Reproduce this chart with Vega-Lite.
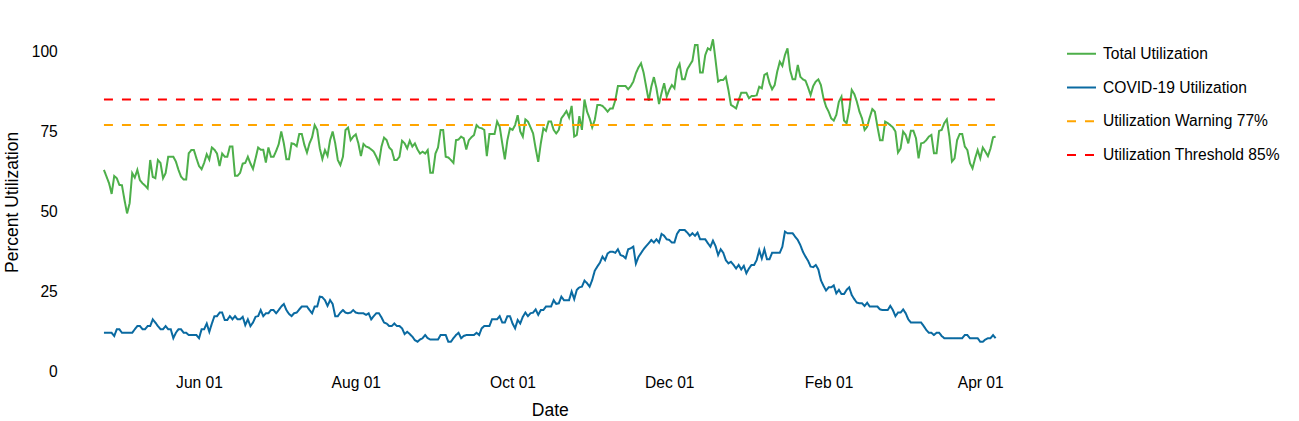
{
"$schema":"https://vega.github.io/schema/vega-lite/v6.json",
"width":981,"height":339.2,
"autosize":{"type":"none"},
"padding":{"left":59.3,"top":32.3,"right":258.7,"bottom":49.5},
"config":{"view":{"stroke":null},"font":"Liberation Sans",
"axis":{"domain":false,"ticks":false,"grid":false,"labelFont":"Liberation Sans","labelFontSize":15.6,"labelColor":"#000","titleFont":"Liberation Sans","titleFontSize":17.5,"titleFontWeight":"normal","titleColor":"#000"}},
"datasets":{
"main":[
{"d":"2020/04/25","t":63.0,"c":12.1},{"d":"2020/04/26","t":60.9,"c":12.1},{"d":"2020/04/27","t":58.8,"c":12.1},{"d":"2020/04/28","t":55.5,"c":12.1},{"d":"2020/04/29","t":61.1,"c":11.1},{"d":"2020/04/30","t":60.4,"c":13.2},
{"d":"2020/05/01","t":58.3,"c":13.2},{"d":"2020/05/02","t":58.2,"c":12.1},{"d":"2020/05/03","t":53.6,"c":12.1},{"d":"2020/05/04","t":49.4,"c":12.1},{"d":"2020/05/05","t":52.6,"c":12.1},{"d":"2020/05/06","t":62.0,"c":12.1},{"d":"2020/05/07","t":60.6,"c":13.2},{"d":"2020/05/08","t":63.0,"c":14.2},{"d":"2020/05/09","t":59.8,"c":14.2},{"d":"2020/05/10","t":58.8,"c":13.2},{"d":"2020/05/11","t":58.1,"c":13.2},{"d":"2020/05/12","t":57.2,"c":14.2},{"d":"2020/05/13","t":66.1,"c":14.2},{"d":"2020/05/14","t":60.8,"c":16.3},{"d":"2020/05/15","t":60.4,"c":15.3},{"d":"2020/05/16","t":66.1,"c":14.2},{"d":"2020/05/17","t":65.2,"c":13.2},{"d":"2020/05/18","t":60.4,"c":13.2},{"d":"2020/05/19","t":62.0,"c":14.2},{"d":"2020/05/20","t":67.1,"c":13.2},{"d":"2020/05/21","t":67.1,"c":13.2},{"d":"2020/05/22","t":67.1,"c":10.4},{"d":"2020/05/23","t":65.6,"c":12.1},{"d":"2020/05/24","t":63.0,"c":13.2},{"d":"2020/05/25","t":60.9,"c":13.2},{"d":"2020/05/26","t":60.0,"c":12.1},{"d":"2020/05/27","t":60.0,"c":12.1},{"d":"2020/05/28","t":68.2,"c":11.4},{"d":"2020/05/29","t":69.2,"c":11.4},{"d":"2020/05/30","t":69.2,"c":11.4},{"d":"2020/05/31","t":66.6,"c":11.4},
{"d":"2020/06/01","t":64.2,"c":10.4},{"d":"2020/06/02","t":63.2,"c":13.2},{"d":"2020/06/03","t":65.2,"c":13.2},{"d":"2020/06/04","t":67.9,"c":15.0},{"d":"2020/06/05","t":66.2,"c":12.4},{"d":"2020/06/06","t":70.0,"c":15.0},{"d":"2020/06/07","t":69.3,"c":17.3},{"d":"2020/06/08","t":68.1,"c":17.3},{"d":"2020/06/09","t":64.2,"c":18.4},{"d":"2020/06/10","t":68.1,"c":18.4},{"d":"2020/06/11","t":67.1,"c":16.1},{"d":"2020/06/12","t":67.1,"c":16.1},{"d":"2020/06/13","t":70.3,"c":17.3},{"d":"2020/06/14","t":70.3,"c":16.3},{"d":"2020/06/15","t":61.2,"c":17.3},{"d":"2020/06/16","t":61.2,"c":16.3},{"d":"2020/06/17","t":62.1,"c":16.3},{"d":"2020/06/18","t":65.0,"c":17.1},{"d":"2020/06/19","t":65.2,"c":14.5},{"d":"2020/06/20","t":67.1,"c":16.3},{"d":"2020/06/21","t":65.0,"c":14.2},{"d":"2020/06/22","t":63.3,"c":15.3},{"d":"2020/06/23","t":66.6,"c":17.1},{"d":"2020/06/24","t":70.0,"c":17.3},{"d":"2020/06/25","t":69.3,"c":19.2},{"d":"2020/06/26","t":69.3,"c":17.3},{"d":"2020/06/27","t":65.3,"c":18.2},{"d":"2020/06/28","t":70.0,"c":18.2},{"d":"2020/06/29","t":67.1,"c":19.2},{"d":"2020/06/30","t":67.1,"c":19.2},
{"d":"2020/07/01","t":68.9,"c":18.2},{"d":"2020/07/02","t":71.0,"c":19.2},{"d":"2020/07/03","t":75.0,"c":20.3},{"d":"2020/07/04","t":71.3,"c":21.1},{"d":"2020/07/05","t":66.3,"c":19.2},{"d":"2020/07/06","t":66.3,"c":18.0},{"d":"2020/07/07","t":71.3,"c":17.3},{"d":"2020/07/08","t":71.1,"c":18.2},{"d":"2020/07/09","t":70.4,"c":18.4},{"d":"2020/07/10","t":74.2,"c":19.4},{"d":"2020/07/11","t":74.2,"c":20.3},{"d":"2020/07/12","t":70.8,"c":20.3},{"d":"2020/07/13","t":68.4,"c":20.3},{"d":"2020/07/14","t":71.3,"c":19.2},{"d":"2020/07/15","t":73.2,"c":18.2},{"d":"2020/07/16","t":77.0,"c":20.3},{"d":"2020/07/17","t":75.5,"c":20.3},{"d":"2020/07/18","t":69.7,"c":23.4},{"d":"2020/07/19","t":66.4,"c":23.2},{"d":"2020/07/20","t":69.2,"c":22.3},{"d":"2020/07/21","t":67.4,"c":20.5},{"d":"2020/07/22","t":72.3,"c":22.3},{"d":"2020/07/23","t":75.0,"c":21.1},{"d":"2020/07/24","t":71.3,"c":17.3},{"d":"2020/07/25","t":66.1,"c":17.3},{"d":"2020/07/26","t":64.5,"c":18.4},{"d":"2020/07/27","t":67.1,"c":19.2},{"d":"2020/07/28","t":75.5,"c":18.4},{"d":"2020/07/29","t":76.2,"c":18.2},{"d":"2020/07/30","t":72.3,"c":18.4},{"d":"2020/07/31","t":73.4,"c":19.2},
{"d":"2020/08/01","t":74.1,"c":18.4},{"d":"2020/08/02","t":71.3,"c":18.2},{"d":"2020/08/03","t":67.3,"c":18.2},{"d":"2020/08/04","t":71.1,"c":18.2},{"d":"2020/08/05","t":70.3,"c":17.7},{"d":"2020/08/06","t":70.0,"c":18.2},{"d":"2020/08/07","t":69.4,"c":16.3},{"d":"2020/08/08","t":68.7,"c":17.3},{"d":"2020/08/09","t":67.1,"c":18.2},{"d":"2020/08/10","t":65.2,"c":18.2},{"d":"2020/08/11","t":70.3,"c":16.9},{"d":"2020/08/12","t":73.1,"c":15.3},{"d":"2020/08/13","t":72.3,"c":15.0},{"d":"2020/08/14","t":70.0,"c":14.2},{"d":"2020/08/15","t":69.2,"c":14.2},{"d":"2020/08/16","t":66.1,"c":15.0},{"d":"2020/08/17","t":66.1,"c":14.2},{"d":"2020/08/18","t":67.1,"c":14.2},{"d":"2020/08/19","t":72.1,"c":13.5},{"d":"2020/08/20","t":71.3,"c":11.7},{"d":"2020/08/21","t":69.7,"c":12.4},{"d":"2020/08/22","t":72.1,"c":11.7},{"d":"2020/08/23","t":70.3,"c":10.9},{"d":"2020/08/24","t":71.3,"c":9.8},{"d":"2020/08/25","t":69.4,"c":9.3},{"d":"2020/08/26","t":68.1,"c":10.0},{"d":"2020/08/27","t":68.7,"c":10.4},{"d":"2020/08/28","t":68.1,"c":11.4},{"d":"2020/08/29","t":69.2,"c":10.4},{"d":"2020/08/30","t":62.1,"c":10.0},{"d":"2020/08/31","t":62.1,"c":10.0},
{"d":"2020/09/01","t":68.1,"c":10.0},{"d":"2020/09/02","t":70.0,"c":10.0},{"d":"2020/09/03","t":75.5,"c":11.4},{"d":"2020/09/04","t":75.5,"c":11.4},{"d":"2020/09/05","t":67.1,"c":11.4},{"d":"2020/09/06","t":66.9,"c":9.3},{"d":"2020/09/07","t":66.1,"c":9.3},{"d":"2020/09/08","t":65.2,"c":10.4},{"d":"2020/09/09","t":72.3,"c":11.4},{"d":"2020/09/10","t":72.5,"c":12.1},{"d":"2020/09/11","t":73.4,"c":10.4},{"d":"2020/09/12","t":72.9,"c":11.1},{"d":"2020/09/13","t":69.4,"c":11.4},{"d":"2020/09/14","t":72.3,"c":11.4},{"d":"2020/09/15","t":73.2,"c":11.4},{"d":"2020/09/16","t":73.9,"c":11.4},{"d":"2020/09/17","t":77.0,"c":12.1},{"d":"2020/09/18","t":76.2,"c":11.4},{"d":"2020/09/19","t":76.0,"c":13.5},{"d":"2020/09/20","t":75.5,"c":14.2},{"d":"2020/09/21","t":67.3,"c":14.2},{"d":"2020/09/22","t":74.2,"c":14.2},{"d":"2020/09/23","t":74.2,"c":16.3},{"d":"2020/09/24","t":74.2,"c":16.3},{"d":"2020/09/25","t":78.1,"c":16.3},{"d":"2020/09/26","t":76.5,"c":17.3},{"d":"2020/09/27","t":71.3,"c":15.3},{"d":"2020/09/28","t":66.3,"c":15.3},{"d":"2020/09/29","t":72.3,"c":17.3},{"d":"2020/09/30","t":76.0,"c":17.3},
{"d":"2020/10/01","t":75.5,"c":15.0},{"d":"2020/10/02","t":77.0,"c":13.5},{"d":"2020/10/03","t":80.1,"c":16.1},{"d":"2020/10/04","t":75.0,"c":15.0},{"d":"2020/10/05","t":73.4,"c":17.1},{"d":"2020/10/06","t":78.8,"c":18.4},{"d":"2020/10/07","t":78.1,"c":17.3},{"d":"2020/10/08","t":76.3,"c":18.2},{"d":"2020/10/09","t":74.4,"c":18.4},{"d":"2020/10/10","t":69.7,"c":19.4},{"d":"2020/10/11","t":65.5,"c":17.7},{"d":"2020/10/12","t":71.3,"c":19.2},{"d":"2020/10/13","t":76.0,"c":19.2},{"d":"2020/10/14","t":75.2,"c":20.3},{"d":"2020/10/15","t":78.1,"c":20.3},{"d":"2020/10/16","t":78.1,"c":20.3},{"d":"2020/10/17","t":75.5,"c":22.3},{"d":"2020/10/18","t":74.4,"c":21.1},{"d":"2020/10/19","t":75.5,"c":21.3},{"d":"2020/10/20","t":79.1,"c":23.4},{"d":"2020/10/21","t":80.2,"c":22.3},{"d":"2020/10/22","t":81.4,"c":22.3},{"d":"2020/10/23","t":79.4,"c":22.3},{"d":"2020/10/24","t":83.0,"c":25.0},{"d":"2020/10/25","t":73.4,"c":22.6},{"d":"2020/10/26","t":73.9,"c":25.5},{"d":"2020/10/27","t":79.8,"c":26.3},{"d":"2020/10/28","t":75.5,"c":26.5},{"d":"2020/10/29","t":85.0,"c":28.4},{"d":"2020/10/30","t":81.2,"c":27.6},{"d":"2020/10/31","t":79.1,"c":26.5},
{"d":"2020/11/01","t":76.3,"c":28.6},{"d":"2020/11/02","t":78.6,"c":31.5},{"d":"2020/11/03","t":83.3,"c":32.8},{"d":"2020/11/04","t":83.3,"c":34.0},{"d":"2020/11/05","t":83.0,"c":35.9},{"d":"2020/11/06","t":82.2,"c":34.8},{"d":"2020/11/07","t":81.2,"c":36.9},{"d":"2020/11/08","t":82.2,"c":37.4},{"d":"2020/11/09","t":82.2,"c":37.4},{"d":"2020/11/10","t":84.8,"c":37.1},{"d":"2020/11/11","t":89.2,"c":38.2},{"d":"2020/11/12","t":89.2,"c":36.4},{"d":"2020/11/13","t":89.2,"c":36.1},{"d":"2020/11/14","t":89.2,"c":35.4},{"d":"2020/11/15","t":88.2,"c":38.2},{"d":"2020/11/16","t":89.2,"c":38.5},{"d":"2020/11/17","t":90.6,"c":39.0},{"d":"2020/11/18","t":93.2,"c":33.7},{"d":"2020/11/19","t":95.0,"c":35.8},{"d":"2020/11/20","t":96.3,"c":37.0},{"d":"2020/11/21","t":93.4,"c":38.2},{"d":"2020/11/22","t":89.0,"c":39.2},{"d":"2020/11/23","t":84.6,"c":40.1},{"d":"2020/11/24","t":89.0,"c":41.1},{"d":"2020/11/25","t":92.0,"c":40.3},{"d":"2020/11/26","t":88.5,"c":41.3},{"d":"2020/11/27","t":83.6,"c":40.3},{"d":"2020/11/28","t":87.1,"c":43.0},{"d":"2020/11/29","t":90.1,"c":42.4},{"d":"2020/11/30","t":85.9,"c":41.3},
{"d":"2020/12/01","t":88.0,"c":41.1},{"d":"2020/12/02","t":89.5,"c":40.3},{"d":"2020/12/03","t":88.5,"c":40.3},{"d":"2020/12/04","t":94.4,"c":43.0},{"d":"2020/12/05","t":96.1,"c":44.2},{"d":"2020/12/06","t":91.3,"c":44.2},{"d":"2020/12/07","t":91.3,"c":44.2},{"d":"2020/12/08","t":94.4,"c":43.4},{"d":"2020/12/09","t":95.8,"c":42.4},{"d":"2020/12/10","t":97.1,"c":43.2},{"d":"2020/12/11","t":102.0,"c":42.4},{"d":"2020/12/12","t":102.0,"c":43.4},{"d":"2020/12/13","t":93.4,"c":41.3},{"d":"2020/12/14","t":93.4,"c":41.3},{"d":"2020/12/15","t":98.9,"c":41.3},{"d":"2020/12/16","t":101.0,"c":40.1},{"d":"2020/12/17","t":100.5,"c":39.0},{"d":"2020/12/18","t":103.8,"c":40.9},{"d":"2020/12/19","t":97.3,"c":39.2},{"d":"2020/12/20","t":90.6,"c":36.4},{"d":"2020/12/21","t":91.1,"c":38.2},{"d":"2020/12/22","t":91.1,"c":37.1},{"d":"2020/12/23","t":92.1,"c":34.8},{"d":"2020/12/24","t":88.0,"c":33.8},{"d":"2020/12/25","t":83.3,"c":34.3},{"d":"2020/12/26","t":82.8,"c":33.3},{"d":"2020/12/27","t":82.2,"c":32.2},{"d":"2020/12/28","t":84.8,"c":33.3},{"d":"2020/12/29","t":87.1,"c":31.9},{"d":"2020/12/30","t":87.1,"c":33.0},{"d":"2020/12/31","t":87.1,"c":30.7},
{"d":"2021/01/01","t":85.4,"c":32.2},{"d":"2021/01/02","t":86.1,"c":33.3},{"d":"2021/01/03","t":86.1,"c":33.3},{"d":"2021/01/04","t":86.3,"c":34.8},{"d":"2021/01/05","t":89.0,"c":37.9},{"d":"2021/01/06","t":88.5,"c":35.3},{"d":"2021/01/07","t":92.7,"c":38.2},{"d":"2021/01/08","t":93.2,"c":35.1},{"d":"2021/01/09","t":90.1,"c":35.1},{"d":"2021/01/10","t":88.2,"c":37.1},{"d":"2021/01/11","t":89.5,"c":37.1},{"d":"2021/01/12","t":93.7,"c":37.1},{"d":"2021/01/13","t":96.8,"c":37.1},{"d":"2021/01/14","t":95.5,"c":39.0},{"d":"2021/01/15","t":98.9,"c":43.7},{"d":"2021/01/16","t":101.0,"c":43.2},{"d":"2021/01/17","t":94.2,"c":43.2},{"d":"2021/01/18","t":91.3,"c":43.2},{"d":"2021/01/19","t":91.3,"c":42.1},{"d":"2021/01/20","t":95.8,"c":41.1},{"d":"2021/01/21","t":92.1,"c":39.5},{"d":"2021/01/22","t":91.3,"c":37.4},{"d":"2021/01/23","t":90.9,"c":35.9},{"d":"2021/01/24","t":88.8,"c":34.6},{"d":"2021/01/25","t":86.4,"c":32.8},{"d":"2021/01/26","t":89.2,"c":32.6},{"d":"2021/01/27","t":90.6,"c":33.3},{"d":"2021/01/28","t":91.3,"c":31.9},{"d":"2021/01/29","t":89.5,"c":28.5},{"d":"2021/01/30","t":85.4,"c":26.8},{"d":"2021/01/31","t":82.8,"c":25.3},
{"d":"2021/02/01","t":81.2,"c":26.3},{"d":"2021/02/02","t":79.1,"c":26.3},{"d":"2021/02/03","t":78.4,"c":26.9},{"d":"2021/02/04","t":80.2,"c":24.4},{"d":"2021/02/05","t":84.3,"c":25.5},{"d":"2021/02/06","t":85.9,"c":24.2},{"d":"2021/02/07","t":78.4,"c":24.2},{"d":"2021/02/08","t":77.6,"c":25.5},{"d":"2021/02/09","t":81.7,"c":26.3},{"d":"2021/02/10","t":88.0,"c":23.9},{"d":"2021/02/11","t":86.7,"c":22.6},{"d":"2021/02/12","t":84.3,"c":21.5},{"d":"2021/02/13","t":81.2,"c":21.3},{"d":"2021/02/14","t":79.1,"c":21.3},{"d":"2021/02/15","t":75.5,"c":20.5},{"d":"2021/02/16","t":76.5,"c":21.5},{"d":"2021/02/17","t":79.4,"c":20.3},{"d":"2021/02/18","t":82.0,"c":20.3},{"d":"2021/02/19","t":81.2,"c":20.3},{"d":"2021/02/20","t":76.5,"c":20.3},{"d":"2021/02/21","t":72.3,"c":19.4},{"d":"2021/02/22","t":72.3,"c":19.2},{"d":"2021/02/23","t":78.1,"c":19.2},{"d":"2021/02/24","t":77.6,"c":19.2},{"d":"2021/02/25","t":77.0,"c":20.5},{"d":"2021/02/26","t":76.3,"c":19.2},{"d":"2021/02/27","t":75.0,"c":17.3},{"d":"2021/02/28","t":68.4,"c":18.4},
{"d":"2021/03/01","t":69.7,"c":18.4},{"d":"2021/03/02","t":75.0,"c":19.4},{"d":"2021/03/03","t":73.9,"c":18.2},{"d":"2021/03/04","t":71.3,"c":16.3},{"d":"2021/03/05","t":75.2,"c":15.3},{"d":"2021/03/06","t":75.2,"c":15.3},{"d":"2021/03/07","t":72.9,"c":15.3},{"d":"2021/03/08","t":66.6,"c":15.3},{"d":"2021/03/09","t":71.3,"c":15.3},{"d":"2021/03/10","t":71.5,"c":14.2},{"d":"2021/03/11","t":72.3,"c":13.0},{"d":"2021/03/12","t":73.4,"c":12.1},{"d":"2021/03/13","t":73.9,"c":12.1},{"d":"2021/03/14","t":68.2,"c":11.4},{"d":"2021/03/15","t":68.2,"c":12.1},{"d":"2021/03/16","t":75.2,"c":12.1},{"d":"2021/03/17","t":75.5,"c":11.1},{"d":"2021/03/18","t":77.6,"c":10.4},{"d":"2021/03/19","t":78.8,"c":10.4},{"d":"2021/03/20","t":73.4,"c":10.4},{"d":"2021/03/21","t":65.6,"c":10.4},{"d":"2021/03/22","t":66.6,"c":10.4},{"d":"2021/03/23","t":72.3,"c":10.4},{"d":"2021/03/24","t":74.2,"c":10.4},{"d":"2021/03/25","t":74.2,"c":10.4},{"d":"2021/03/26","t":70.3,"c":11.4},{"d":"2021/03/27","t":69.2,"c":11.4},{"d":"2021/03/28","t":65.1,"c":10.4},{"d":"2021/03/29","t":63.5,"c":10.4},{"d":"2021/03/30","t":66.6,"c":10.4},{"d":"2021/03/31","t":69.2,"c":10.4},
{"d":"2021/04/01","t":66.6,"c":9.3},{"d":"2021/04/02","t":70.0,"c":9.3},{"d":"2021/04/03","t":68.7,"c":10.0},{"d":"2021/04/04","t":67.3,"c":10.4},{"d":"2021/04/05","t":69.7,"c":10.4},{"d":"2021/04/06","t":73.2,"c":11.4},{"d":"2021/04/07","t":73.4,"c":10.4}
],
"limits":[
{"d":"2020/04/25","k":"w","v":77},{"d":"2021/04/07","k":"w","v":77},
{"d":"2020/04/25","k":"h","v":85},{"d":"2021/04/07","k":"h","v":85}
]},
"encoding":{
"x":{"field":"d","type":"temporal",
"scale":{"domain":[{"year":2020,"month":4,"date":7,"hours":15},{"year":2021,"month":4,"date":24,"hours":9}]},
"axis":{"title":"Date","format":"%b %d","labelPadding":4,"titlePadding":10,"labelFlush":false,"labelOverlap":false,
"values":[{"year":2020,"month":6,"date":1},{"year":2020,"month":8,"date":1},{"year":2020,"month":10,"date":1},{"year":2020,"month":12,"date":1},{"year":2021,"month":2,"date":1},{"year":2021,"month":4,"date":1}]}},
"y":{"field":"v","type":"quantitative","scale":{"domain":[0,106],"nice":false},
"axis":{"title":"Percent Utilization","values":[0,25,50,75,100],"labelPadding":2,"titlePadding":10}},
"color":{"field":"k","type":"nominal",
"scale":{"domain":["t","c","w","h"],"range":["#4DAF4A","#0A6AA1","#FFA500","#FF0000"]},
"legend":{"title":null,"orient":"none","legendX":1006.7,"legendY":6,"labelFont":"Liberation Sans","labelFontSize":15.6,"labelColor":"#000","labelLimit":0,"symbolType":"stroke","symbolSize":841,"symbolStrokeWidth":2,"rowPadding":8.7,"labelOffset":6,"padding":0,
"labelExpr":"datum.label == 't' ? 'Total Utilization' : datum.label == 'c' ? 'COVID-19 Utilization' : datum.label == 'w' ? 'Utilization Warning 77%' : 'Utilization Threshold 85%'"}},
"strokeDash":{"field":"k","type":"nominal",
"scale":{"domain":["t","c","w","h"],"range":[[1,0],[1,0],[9,9],[9,9]]},
"legend":{"title":null,"orient":"none","legendX":1006.7,"legendY":6,"labelFont":"Liberation Sans","labelFontSize":15.6,"labelColor":"#000","labelLimit":0,"symbolType":"stroke","symbolSize":841,"symbolStrokeWidth":2,"rowPadding":8.7,"labelOffset":6,"padding":0,
"labelExpr":"datum.label == 't' ? 'Total Utilization' : datum.label == 'c' ? 'COVID-19 Utilization' : datum.label == 'w' ? 'Utilization Warning 77%' : 'Utilization Threshold 85%'"}}
},
"layer":[
{"data":{"name":"main"},"transform":[{"fold":["t","c"],"as":["k","v"]}],"mark":{"type":"line","strokeWidth":2}},
{"data":{"name":"limits"},"mark":{"type":"line","strokeWidth":2}}
]
}
